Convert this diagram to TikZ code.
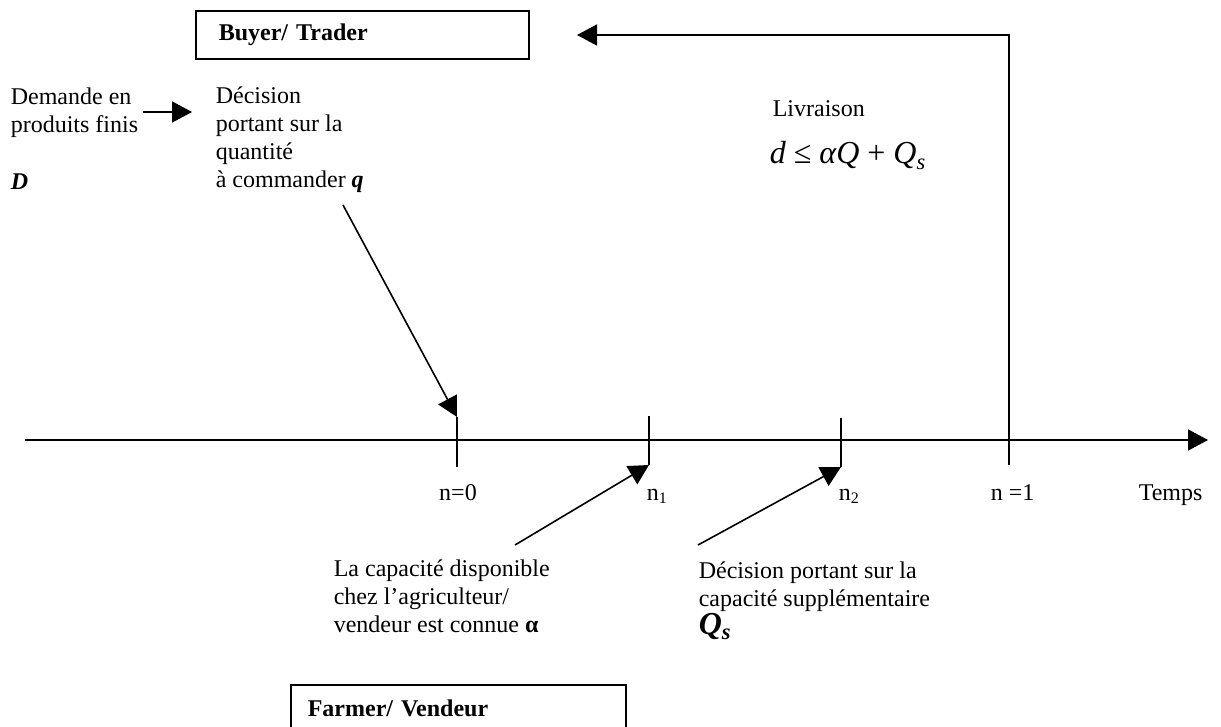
\documentclass[tikz,border=0pt]{standalone}
\usepackage{fontspec}
\setmainfont{Liberation Serif}
\usetikzlibrary{arrows.meta}

\begin{document}
\begin{tikzpicture}[x=0.5pt,y=-0.5pt,line width=0.8pt,>={Triangle[length=10pt,width=10.5pt]}]
		\tikzstyle{txt}=[inner sep=0pt,align=left,font=\fontsize{12}{14}\selectfont]
		\tikzstyle{box}=[draw,anchor=north west,inner xsep=11.5pt,inner ysep=0pt,align=left,font=\fontsize{12}{14}\selectfont\bfseries]
		\tikzstyle{tick}=[line width=0.8pt]
		\useasboundingbox (0,0) rectangle (1221,727);
		\clip (0,0) rectangle (1221,727);

		% acteurs
		\node[box,minimum width=166.5pt,minimum height=24pt,text width=143.5pt] (buyer) at (195,10) {Buyer/ Trader};
		\node[box,minimum width=167.5pt,minimum height=24pt,text width=150.5pt,inner xsep=8.5pt] (farmer) at (290,684) {Farmer/ Vendeur};

		% demande et commande (base = derniere ligne)
		\node[txt,anchor=base west] (dem) at (10,133) {Demande en\\produits finis};
		\node[txt,anchor=base west] (D) at (10,190) {\textbf{\textit{D}}};
		\node[txt,anchor=base west] (dec) at (215,188) {Décision\\portant sur la\\quantité\\à commander \textbf{\textit{q}}};
		\coordinate (dem-out) at (143,112);
		\coordinate (dec-in) at (192,112);
		\draw[->] (dem-out) -- (dec-in);

		% livraison
		\node[txt,anchor=base west] (livr) at (772,117) {Livraison};
		\node[txt,anchor=base west,font=\fontsize{16}{18}\selectfont] (form) at (769,164) {\textit{d} ≤ \textit{αQ} + \textit{Q}\textsubscript{\textit{s}}};

		% axe du temps
		\coordinate (t-start) at (25,440);
		\coordinate (t-end) at (1208,440);
		\draw[->] (t-start) -- (t-end);
		\foreach \nom/\x/\yt/\yb in {n0/457/417/467, n1/649/416/465, n2/841/418/467}
		{
			\coordinate (\nom-top) at (\x,\yt);
			\coordinate (\nom-bot) at (\x,\yb);
			\draw[tick] (\nom-top) -- (\nom-bot);
		}
		\coordinate (n3-bot) at (1009,465);
		\coordinate (n3-up) at (1009,35);
		\coordinate (buyer-in) at (577,35);
		\draw[->] (n3-bot) -- (n3-up) -- (buyer-in);

		\node[txt,anchor=base] (l-n0) at (458,500) {n=0};
		\node[txt,anchor=base west] (l-n1) at (646,500) {n\textsubscript{1}};
		\node[txt,anchor=base west] (l-n2) at (838,500) {n\textsubscript{2}};
		\node[txt,anchor=base west] (l-n3) at (990,500) {n =1};
		\node[txt,anchor=base west] (temps) at (1138,500) {Temps};

		% evenements
		\coordinate (q-start) at (343,205);
		\draw[->] (q-start) -- (n0-top);
		\node[txt,anchor=base west] (cap) at (333,632) {La capacité disponible\\chez l’agriculteur/\\vendeur est connue {\bfseries α}};
		\node[txt,anchor=base west] (sup) at (698,634) {Décision portant sur la\\capacité supplémentaire\\{\fontsize{16}{18}\selectfont\textbf{\textit{Q\textsubscript{s}}}}};
		\coordinate (cap-out) at (515,545);
		\coordinate (sup-out) at (698,545);
		\draw[->] (cap-out) -- (n1-bot);
		\draw[->] (sup-out) -- (n2-bot);

	\end{tikzpicture}
\end{document}
